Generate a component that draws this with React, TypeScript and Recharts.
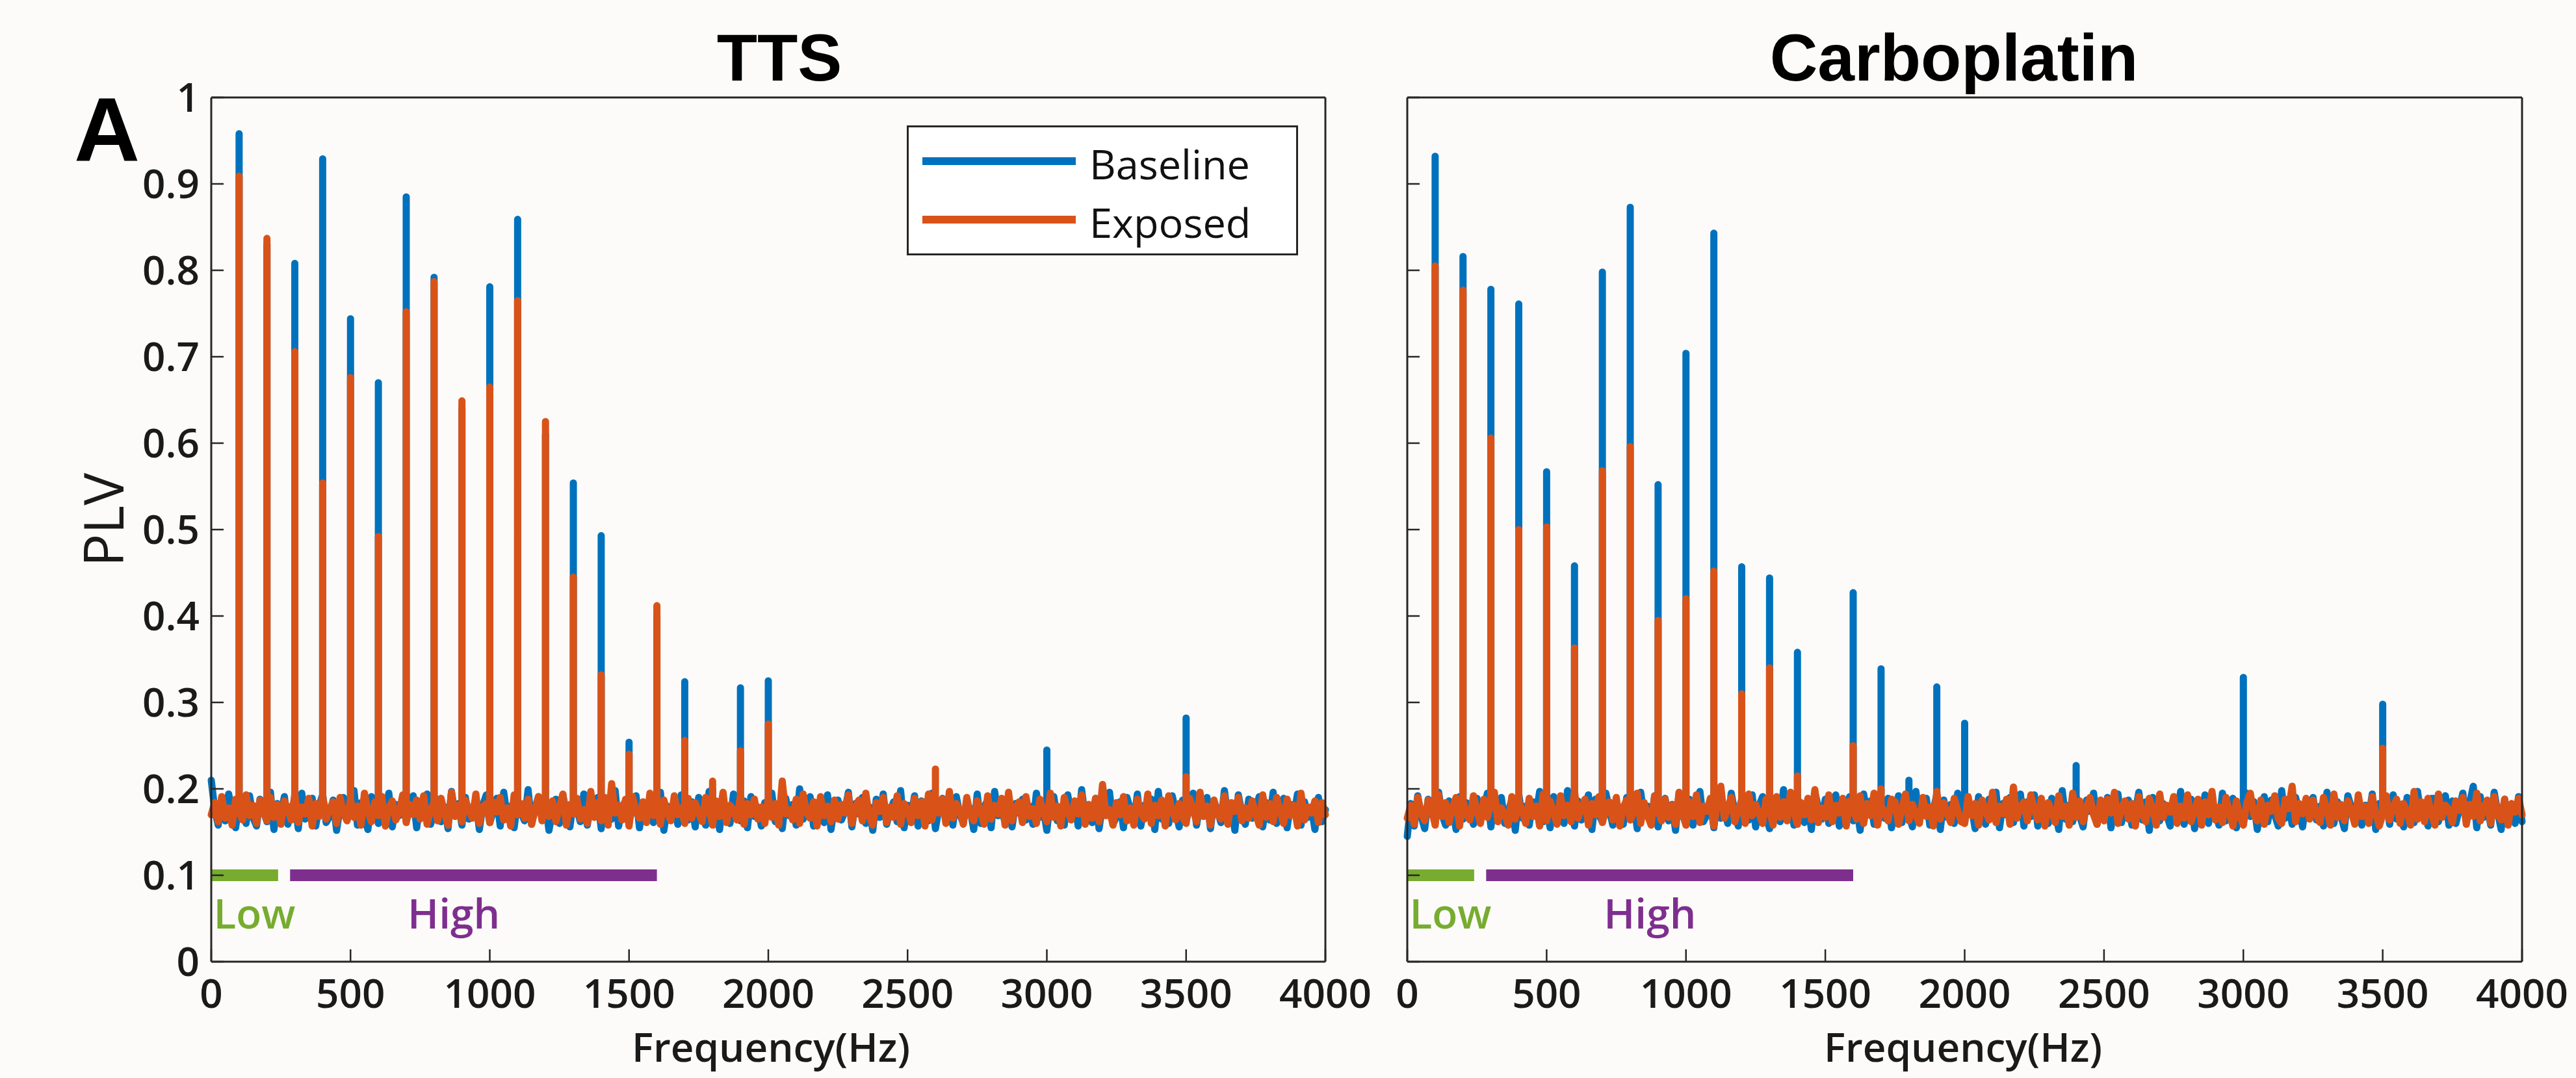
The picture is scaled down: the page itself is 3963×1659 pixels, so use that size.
import React from "react";
import { LineChart, Line, XAxis, YAxis, Legend, ReferenceLine, ReferenceDot } from "recharts";

const BLUE = "#0072bd";
const ORANGE = "#d95319";
const AXIS = "#262626";
const BG = "#fcfbf9";
const STEP = 12.5; // Hz between noise samples

const freqTicks = [0, 500, 1000, 1500, 2000, 2500, 3000, 3500, 4000];
const plvTicks = [0, 0.1, 0.2, 0.3, 0.4, 0.5, 0.6, 0.7, 0.8, 0.9, 1];

// harmonic peaks (Hz) and the PLV reached there; null = nothing above the noise
const ttsPeakHz = [100, 200, 300, 400, 500, 600, 700, 800, 900, 1000, 1100, 1200, 1300, 1400, 1500, 1600, 1700, 1800, 1900, 2000, 2600, 3000, 3500];
const ttsBaselinePeaks = [0.958, 0.83, 0.808, 0.929, 0.744, 0.67, 0.885, 0.792, 0.64, 0.781, 0.859, 0.61, 0.554, 0.493, 0.254, 0.4, 0.324, 0.2, 0.317, 0.325, null, 0.245, 0.282];
const ttsExposedPeaks = [0.909, 0.837, 0.706, 0.554, 0.676, 0.492, 0.752, 0.787, 0.649, 0.665, 0.765, 0.625, 0.445, 0.332, 0.24, 0.412, 0.256, 0.209, 0.244, 0.275, 0.223, null, 0.214];

const carboPeakHz = [100, 200, 300, 400, 500, 600, 700, 800, 900, 1000, 1100, 1200, 1300, 1400, 1600, 1700, 1800, 1900, 2000, 2400, 3000, 3500];
const carboBaselinePeaks = [0.932, 0.816, 0.778, 0.761, 0.567, 0.458, 0.798, 0.873, 0.552, 0.704, 0.843, 0.457, 0.444, 0.358, 0.427, 0.339, 0.21, 0.318, 0.276, 0.227, 0.329, 0.298];
const carboExposedPeaks = [0.805, 0.777, 0.606, 0.5, 0.503, 0.363, 0.568, 0.596, 0.395, 0.42, 0.452, 0.31, 0.34, 0.215, 0.25, 0.2, null, null, null, null, null, 0.247];

// noise floor, PLV x 1000, one value every 12.5 Hz from 0 to 4000 (20 per row = 250 Hz)
const ttsBaselineNoise = [
  210, 176, 158, 189, 163, 194, 171, 155, 186, 180, 160, 192, 167, 157, 188, 174, 162, 196, 153, 183,
  170, 191, 159, 178, 186, 154, 195, 165, 172, 189, 157, 181, 193, 161, 168, 187, 152, 179, 190, 164,
  175, 198, 158, 184, 166, 153, 191, 177, 160, 187, 171, 195, 156, 182, 169, 189, 163, 176, 192, 155,
  185, 168, 194, 159, 173, 188, 162, 179, 154, 197, 170, 183, 158, 190, 165, 176, 186, 153, 181, 193,
  161, 174, 189, 157, 196, 168, 180, 155, 187, 172, 163, 199, 159, 178, 191, 166, 184, 152, 175, 188,
  160, 193, 171, 156, 185, 177, 162, 194, 158, 182, 169, 190, 154, 187, 173, 165, 198, 157, 179, 186,
  163, 176, 192, 155, 183, 170, 189, 161, 174, 196, 152, 180, 167, 188, 159, 193, 172, 164, 185, 156,
  190, 175, 158, 197, 166, 181, 153, 187, 171, 160, 194, 177, 163, 186, 155, 191, 168, 179, 157, 184,
  173, 195, 162, 178, 154, 189, 169, 182, 158, 200, 165, 176, 191, 157, 184, 170, 161, 193, 153, 180,
  187, 164, 174, 196, 156, 183, 171, 190, 160, 179, 152, 188, 167, 194, 159, 175, 185, 162, 198, 155,
  181, 168, 192, 157, 186, 173, 163, 195, 154, 178, 189, 166, 182, 158, 191, 170, 161, 184, 176, 153,
  194, 160, 179, 187, 155, 197, 169, 174, 162, 190, 156, 183, 172, 188, 164, 180, 159, 195, 167, 177,
  152, 186, 191, 163, 175, 158, 193, 170, 184, 157, 199, 166, 178, 161, 189, 154, 182, 173, 196, 159,
  168, 185, 155, 190, 176, 162, 194, 157, 181, 171, 188, 153, 197, 165, 179, 160, 192, 174, 156, 187,
  163, 178, 195, 158, 183, 169, 190, 154, 186, 175, 161, 198, 167, 180, 152, 193, 172, 159, 188, 166,
  177, 191, 156, 184, 164, 196, 160, 173, 189, 155, 182, 170, 194, 158, 185, 167, 179, 153, 190, 162,
  176,
];
const ttsExposedNoise = [
  170, 184, 162, 191, 166, 178, 158, 188, 173, 164, 193, 169, 181, 160, 187, 175, 163, 190, 167, 182,
  159, 186, 176, 164, 194, 161, 179, 171, 189, 157, 183, 168, 192, 165, 177, 185, 160, 190, 172, 163,
  188, 167, 180, 158, 195, 174, 162, 185, 169, 191, 157, 178, 186, 164, 173, 193, 161, 182, 170, 187,
  165, 192, 159, 176, 184, 163, 189, 172, 158, 196, 168, 181, 162, 187, 175, 166, 194, 160, 179, 183,
  161, 185, 173, 190, 164, 178, 157, 193, 170, 183, 166, 188, 159, 175, 191, 163, 180, 168, 186, 162,
  179, 194, 158, 182, 171, 189, 165, 176, 160, 197, 167, 184, 163, 190, 158, 206, 172, 181, 164, 188,
  157, 191, 174, 166, 185, 161, 195, 169, 180, 159, 187, 173, 163, 192, 170, 178, 160, 189, 166, 184,
  172, 162, 190, 177, 158, 186, 168, 196, 161, 181, 175, 164, 193, 159, 183, 170, 188, 165, 179, 160,
  190, 167, 183, 158, 209, 171, 176, 164, 188, 160, 194, 173, 166, 185, 157, 191, 169, 180, 162, 187,
  165, 182, 172, 193, 160, 178, 187, 163, 195, 168, 158, 184, 174, 190, 161, 179, 167, 192, 159, 183,
  176, 161, 189, 169, 185, 157, 194, 164, 180, 172, 188, 160, 197, 166, 183, 175, 159, 190, 170, 163,
  186, 174, 159, 192, 165, 181, 171, 189, 158, 196, 163, 178, 185, 161, 191, 168, 177, 160, 188, 173,
  162, 195, 167, 180, 157, 190, 174, 164, 186, 171, 193, 159, 182, 166, 189, 162, 205, 169, 176, 158,
  184, 170, 191, 163, 178, 158, 188, 173, 165, 194, 160, 181, 169, 187, 157, 192, 175, 164, 183, 167,
  160, 189, 176, 162, 196, 168, 180, 158, 187, 171, 165, 192, 159, 184, 174, 190, 163, 178, 166, 186,
  171, 158, 193, 167, 183, 162, 190, 175, 160, 188, 169, 181, 157, 195, 164, 179, 172, 186, 161, 184,
  170,
];
const carboBaselineNoise = [
  145, 183, 157, 192, 168, 154, 188, 175, 161, 196, 170, 158, 186, 179, 153, 191, 165, 184, 172, 159,
  189, 163, 177, 195, 156, 182, 169, 190, 160, 174, 187, 152, 194, 166, 180, 158, 185, 171, 197, 162,
  178, 155, 191, 167, 184, 160, 198, 173, 157, 186, 164, 179, 193, 153, 188, 170, 162, 195, 176, 158,
  183, 171, 159, 190, 165, 187, 154, 196, 169, 180, 161, 192, 156, 177, 189, 163, 182, 152, 194, 168,
  175, 188, 158, 183, 197, 162, 170, 186, 155, 191, 166, 178, 160, 195, 173, 157, 189, 180, 164, 193,
  156, 181, 191, 169, 154, 187, 176, 162, 199, 167, 184, 158, 190, 172, 161, 185, 153, 196, 178, 165,
  188, 160, 176, 193, 157, 182, 168, 191, 163, 179, 152, 194, 171, 186, 159, 183, 185, 166, 189, 155,
  174, 192, 161, 185, 170, 156, 197, 164, 180, 189, 158, 176, 193, 153, 187, 167, 182, 160, 195, 171,
  162, 186, 178, 154, 191, 173, 159, 188, 166, 196, 155, 183, 170, 190, 161, 179, 194, 157, 185, 168,
  193, 157, 184, 172, 160, 189, 176, 153, 198, 165, 181, 162, 192, 169, 156, 187, 174, 195, 159, 180,
  166, 190, 155, 182, 194, 161, 178, 187, 158, 173, 196, 164, 185, 152, 190, 176, 163, 183, 170, 157,
  184, 171, 197, 159, 176, 188, 154, 181, 167, 193, 160, 186, 172, 158, 195, 163, 179, 189, 155, 174,
  161, 195, 168, 185, 153, 179, 191, 162, 187, 170, 157, 198, 166, 182, 159, 190, 174, 156, 186, 177,
  190, 164, 180, 157, 196, 172, 160, 185, 169, 154, 192, 178, 163, 188, 158, 181, 167, 194, 153, 183,
  171, 187, 159, 193, 165, 182, 156, 190, 175, 161, 197, 168, 184, 157, 189, 189, 162, 179, 192, 158,
  186, 160, 177, 195, 163, 184, 203, 155, 191, 167, 180, 158, 196, 173, 153, 188, 165, 182, 160, 191,
  162,
];
const carboExposedNoise = [
  166, 181, 159, 190, 172, 163, 187, 176, 158, 193, 168, 184, 161, 179, 190, 157, 186, 170, 164, 192,
  175, 160, 188, 167, 183, 196, 162, 178, 171, 158, 191, 165, 185, 174, 160, 189, 168, 180, 157, 194,
  163, 186, 173, 159, 192, 169, 181, 162, 197, 166, 177, 188, 158, 183, 170, 191, 161, 176, 185, 164,
  190, 157, 179, 187, 164, 173, 195, 160, 184, 169, 158, 192, 175, 163, 188, 167, 181, 159, 196, 171,
  158, 185, 168, 193, 161, 180, 174, 189, 157, 183, 203, 166, 178, 190, 162, 175, 187, 160, 194, 169,
  182, 171, 160, 188, 176, 158, 191, 167, 185, 163, 196, 173, 159, 184, 170, 189, 164, 199, 161, 178,
  167, 193, 162, 181, 172, 189, 157, 186, 176, 165, 192, 160, 183, 169, 195, 158, 180, 174, 163, 188,
  185, 159, 177, 194, 163, 182, 170, 160, 190, 168, 179, 157, 197, 165, 184, 172, 161, 189, 175, 162,
  160, 191, 169, 183, 158, 187, 175, 164, 196, 161, 180, 171, 188, 159, 202, 166, 178, 185, 163, 193,
  176, 164, 189, 157, 184, 173, 161, 192, 168, 180, 158, 195, 167, 186, 162, 179, 190, 170, 159, 187,
  163, 188, 172, 196, 160, 178, 186, 165, 183, 157, 191, 170, 162, 189, 176, 158, 194, 167, 181, 173,
  191, 160, 180, 166, 193, 162, 175, 188, 158, 185, 170, 197, 164, 179, 161, 190, 173, 157, 186, 168,
  158, 184, 195, 170, 163, 187, 159, 181, 174, 192, 166, 160, 188, 177, 203, 162, 183, 171, 189, 165,
  187, 169, 161, 190, 176, 158, 194, 167, 182, 163, 186, 174, 159, 193, 168, 180, 160, 191, 172, 157,
  170, 192, 164, 179, 188, 160, 183, 173, 158, 197, 165, 185, 162, 189, 171, 158, 194, 167, 181, 176,
  161, 186, 175, 190, 159, 182, 168, 195, 163, 178, 187, 160, 191, 170, 164, 188, 158, 183, 173, 189,
  170,
];

// frequency bands drawn at PLV 0.1
const bandNames = ["Low", "High"];
const bandFrom = [0, 283];
const bandTo = [240, 1600];
const bandColors = ["#77ac30", "#7e2f8e"];
const bandTextHz = [8, 705];
const BAND_PLV = 0.1;
const BAND_TEXT_PLV = 0.038;

const buildSeries = (noise, peakHz, peaks) => {
  const rows = [];
  noise.forEach((n, i) => {
    const f = i * STEP;
    const v = n / 1000;
    const k = peakHz.indexOf(f);
    if (k >= 0 && peaks[k] != null) {
      rows.push({ f, plv: v }, { f, plv: peaks[k] }, { f, plv: v });
    } else {
      rows.push({ f, plv: v });
    }
  });
  return rows;
};

const ttsBaseline = buildSeries(ttsBaselineNoise, ttsPeakHz, ttsBaselinePeaks);
const ttsExposed = buildSeries(ttsExposedNoise, ttsPeakHz, ttsExposedPeaks);
const carboBaseline = buildSeries(carboBaselineNoise, carboPeakHz, carboBaselinePeaks);
const carboExposed = buildSeries(carboExposedNoise, carboPeakHz, carboExposedPeaks);

const tickFont = { fontSize: 62, fill: "#1a1a1a", fontFamily: "Open Sans", fontWeight: 600 };
const NoTick = () => <g />;

const LegendBox = ({ payload }: any) => (
  <svg width={602} height={200} style={{ display: "block" }}>
    <rect x={1.5} y={1.5} width={599} height={197} fill="#ffffff" stroke={AXIS} strokeWidth={3} />
    {(payload || []).map((p: any, i: number) => (
      <g key={p.value}>
        <line x1={24} x2={260} y1={55 + i * 90} y2={55 + i * 90} stroke={p.color} strokeWidth={12} />
        <text x={281} y={83 + i * 90} fontSize={63} fontFamily="Open Sans" fill="#111">
          {p.value}
        </text>
      </g>
    ))}
  </svg>
);

const bandText = (name: string, color: string) => (props: any) => {
  const vb = props.viewBox || {};
  return (
    <text x={vb.x} y={vb.y} fill={color} fontSize={64} fontFamily="Open Sans" fontWeight={600}>
      {name}
    </text>
  );
};

const Panel = ({ baseline, exposed, left, width, yWidth, marginLeft, marginRight, yLabels, legend }: any) => (
  <div style={{ position: "absolute", left, top: 0 }}>
    <LineChart width={width} height={1659} margin={{ top: 149, right: marginRight, bottom: 79, left: marginLeft }}>
      <XAxis
        dataKey="f"
        type="number"
        domain={[0, 4000]}
        ticks={freqTicks}
        interval={0}
        height={100}
        tickSize={-19}
        tickMargin={46}
        tick={tickFont}
        axisLine={{ stroke: AXIS, strokeWidth: 3 }}
        tickLine={{ stroke: AXIS, strokeWidth: 2.5 }}
      />
      <XAxis
        xAxisId="top"
        orientation="top"
        dataKey="f"
        type="number"
        domain={[0, 4000]}
        ticks={freqTicks}
        interval={0}
        height={1}
        tickSize={-19}
        tick={NoTick}
        axisLine={{ stroke: AXIS, strokeWidth: 3 }}
        tickLine={{ stroke: AXIS, strokeWidth: 2.5 }}
      />
      <YAxis
        type="number"
        domain={[0, 1]}
        ticks={plvTicks}
        interval={0}
        width={yWidth}
        tickSize={-19}
        tickMargin={37}
        tick={yLabels ? tickFont : NoTick}
        tickFormatter={(v: number) => String(v)}
        axisLine={{ stroke: AXIS, strokeWidth: 3 }}
        tickLine={{ stroke: AXIS, strokeWidth: 2.5 }}
      />
      <YAxis
        yAxisId="right"
        orientation="right"
        type="number"
        domain={[0, 1]}
        ticks={plvTicks}
        interval={0}
        width={1}
        tickSize={-19}
        tick={NoTick}
        axisLine={{ stroke: AXIS, strokeWidth: 3 }}
        tickLine={{ stroke: AXIS, strokeWidth: 2.5 }}
      />
      {legend && (
        <Legend
          layout="horizontal"
          verticalAlign="middle"
          align="center"
          content={<LegendBox />}
          wrapperStyle={{ left: 1395, top: 193, width: 602, height: 200 }}
        />
      )}
      <Line
        data={baseline}
        dataKey="plv"
        name="Baseline"
        type="linear"
        stroke={BLUE}
        strokeWidth={11}
        strokeLinejoin="round"
        strokeLinecap="round"
        dot={false}
        isAnimationActive={false}
      />
      <Line
        data={exposed}
        dataKey="plv"
        name="Exposed"
        type="linear"
        stroke={ORANGE}
        strokeWidth={11}
        strokeLinejoin="round"
        strokeLinecap="round"
        dot={false}
        isAnimationActive={false}
      />
      {bandNames.map((name, i) => (
        <ReferenceLine
          key={name}
          segment={[
            { x: bandFrom[i], y: BAND_PLV },
            { x: bandTo[i], y: BAND_PLV },
          ]}
          stroke={bandColors[i]}
          strokeWidth={18}
        />
      ))}
      {bandNames.map((name, i) => (
        <ReferenceDot
          key={name + "-t"}
          x={bandTextHz[i]}
          y={BAND_TEXT_PLV}
          r={0}
          fill="none"
          stroke="none"
          label={{ content: bandText(name, bandColors[i]) }}
        />
      ))}
    </LineChart>
  </div>
);

export default function App() {
  return (
    <div style={{ position: "absolute", left: 0, top: 0, width: 3963, height: 1659, background: BG, overflow: "hidden" }}>
      <Panel
        baseline={ttsBaseline}
        exposed={ttsExposed}
        left={0}
        width={2150}
        yWidth={200}
        marginLeft={125}
        marginRight={110}
        yLabels
        legend
      />
      <Panel
        baseline={carboBaseline}
        exposed={carboExposed}
        left={2100}
        width={1863}
        yWidth={50}
        marginLeft={15}
        marginRight={82}
        yLabels={false}
        legend={false}
      />
      <svg
        width={3963}
        height={1659}
        style={{ position: "absolute", left: 0, top: 0, pointerEvents: "none" }}
      >
        <text x={1199} y={124} textAnchor="middle" fontSize={102} fontWeight={700} fontFamily="Liberation Sans" fill="#000">
          TTS
        </text>
        <text x={3006} y={124} textAnchor="middle" fontSize={102} fontWeight={700} fontFamily="Liberation Sans" fill="#000">
          Carboplatin
        </text>
        <text x={114} y={248} fontSize={140} fontWeight={700} fontFamily="Liberation Sans" fill="#000">
          A
        </text>
        <text transform="translate(190,800) rotate(-90)" textAnchor="middle" fontSize={84} fontWeight={500} fontFamily="Open Sans" fill="#1a1a1a">
          PLV
        </text>
        <text x={1186} y={1634} textAnchor="middle" fontSize={62} fontWeight={600} fontFamily="Open Sans" fill="#1a1a1a">
          Frequency(Hz)
        </text>
        <text x={3020} y={1634} textAnchor="middle" fontSize={62} fontWeight={600} fontFamily="Open Sans" fill="#1a1a1a">
          Frequency(Hz)
        </text>
      </svg>
    </div>
  );
}
